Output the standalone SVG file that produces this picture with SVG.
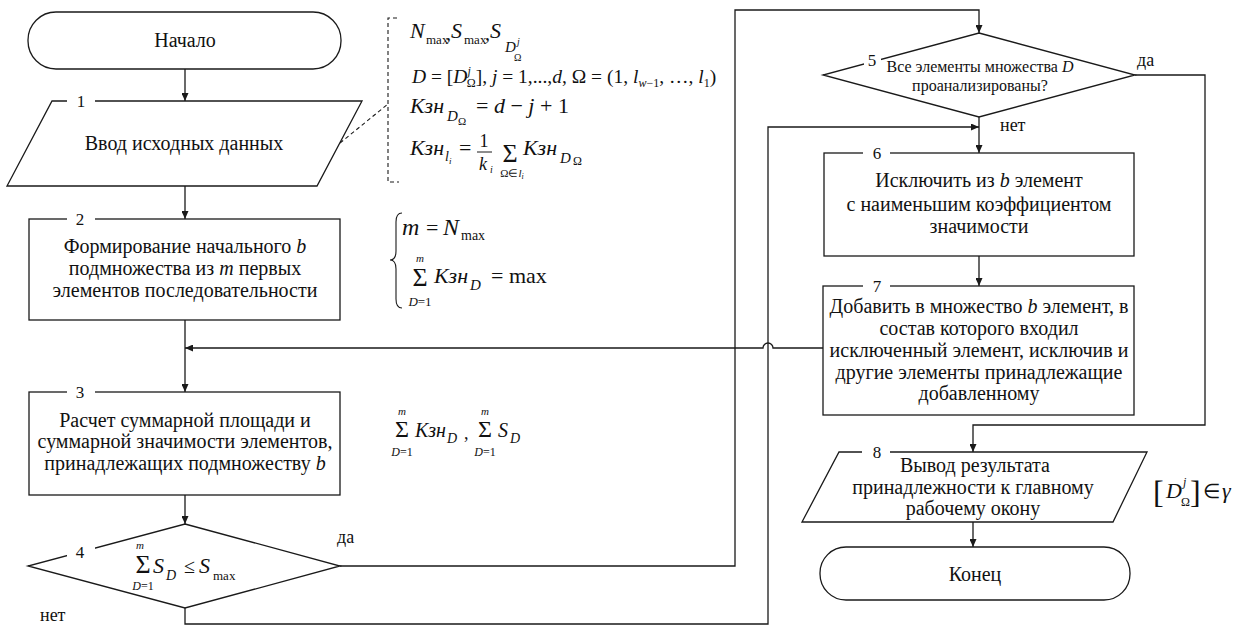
<svg xmlns="http://www.w3.org/2000/svg" width="1252" height="627" viewBox="0 0 1252 627" font-family="Liberation Serif">
<style>
.ln{fill:none;stroke:#1a1a1a;stroke-width:1.3}
.sh{fill:#fff;stroke:#1a1a1a;stroke-width:1.3}
.gap{fill:#fff;stroke:none}
text{font-family:"Liberation Serif","Times New Roman",serif;fill:#111}
.t{font-size:20px;text-anchor:middle}
.n{font-size:17px;text-anchor:middle}
.s{font-size:16px;text-anchor:middle}
.i{font-style:italic}
.mid{text-anchor:middle}
.dash{fill:none;stroke:#1a1a1a;stroke-width:1.1;stroke-dasharray:4,3}
</style>
<defs>
<marker id="ar" markerWidth="8" markerHeight="7" refX="8" refY="3.5" orient="auto" markerUnits="userSpaceOnUse">
<path d="M0,0 L8,3.5 L0,7 z" fill="#1a1a1a"/>
</marker>
</defs>
<rect width="1252" height="627" fill="#fff"/>

<g id="connectors">
<path class="ln" d="M185,69 V101" marker-end="url(#ar)"/>
<path class="ln" d="M185,186 V219" marker-end="url(#ar)"/>
<path class="ln" d="M185,320 V392" marker-end="url(#ar)"/>
<path class="ln" d="M185,495 V524" marker-end="url(#ar)"/>
<path class="ln" d="M340,566 H735 V10 H979 V33" marker-end="url(#ar)"/>
<path class="ln" d="M185,608 V624 H768 V127 H979" marker-end="url(#ar)"/>
<path class="ln" d="M979,117 V153" marker-end="url(#ar)"/>
<path class="ln" d="M979,256 V286" marker-end="url(#ar)"/>
<path class="ln" d="M823,348 H773 A5,5 0 0 0 763,348 H185" marker-end="url(#ar)"/>
<path class="ln" d="M1135,75 H1205 V425 H973 V452" marker-end="url(#ar)"/>
<path class="ln" d="M973,522 V547" marker-end="url(#ar)"/>
<path class="dash" d="M340,143 L388,104"/>
<text x="337" y="543" style="font-size:18px">да</text>
<text x="40" y="621" style="font-size:18px">нет</text>
<text x="1137" y="66" style="font-size:18px">да</text>
<text x="1000" y="131" style="font-size:18px">нет</text>
</g>

<g id="start">
<rect class="sh" x="28" y="12" width="313" height="57" rx="28" ry="28"/>
<text class="t" x="185" y="47">Начало</text>
</g>

<g id="node1">
<polygon class="sh" points="52,101 362,101 317,186 7,186"/>
<rect class="gap" x="67" y="97" width="28" height="8"/>
<text class="n" x="81" y="107">1</text>
<text class="t" x="184" y="150">Ввод исходных данных</text>
</g>

<g id="note-input">
<path class="dash" d="M397,18 H388 V182 H399"/>
<text x="410" y="38" class="i" style="font-size:22px">N</text>
<text x="426" y="44" style="font-size:13px">max</text>
<text x="446" y="40" style="font-size:20px">,</text>
<text x="451" y="38" class="i" style="font-size:22px">S</text>
<text x="464" y="44" style="font-size:13px">max</text>
<text x="485" y="40" style="font-size:20px">,</text>
<text x="490" y="38" class="i" style="font-size:22px">S</text>
<text x="505" y="52" class="i" style="font-size:15px">D</text>
<text x="517" y="45" class="i" style="font-size:10px">j</text>
<text x="514" y="61" style="font-size:10px">Ω</text>
<text x="412" y="83" style="font-size:19.5px"><tspan class="i">D</tspan> = [<tspan class="i">D</tspan><tspan class="i" style="font-size:12px" dy="-8">j</tspan><tspan style="font-size:12px" dx="-4" dy="12">Ω</tspan><tspan dy="-4">], </tspan><tspan class="i">j</tspan> = 1,...,<tspan class="i">d</tspan>, Ω = (1, <tspan class="i">l</tspan><tspan class="i" style="font-size:12px" dy="4">w</tspan><tspan style="font-size:12px">−1</tspan><tspan dy="-4">, …, </tspan><tspan class="i">l</tspan><tspan style="font-size:12px" dy="4">1</tspan><tspan dy="-4">)</tspan></text>
<text x="410" y="113" class="i" style="font-size:22px">Кзн</text>
<text x="447" y="121" class="i" style="font-size:15px">D</text>
<text x="458" y="125" style="font-size:11px">Ω</text>
<text x="476" y="113" style="font-size:22px">= <tspan class="i">d</tspan> − <tspan class="i">j</tspan> + 1</text>
<text x="410" y="155" class="i" style="font-size:22px">Кзн</text>
<text x="445" y="161" class="i" style="font-size:14px">l</text>
<text x="449" y="164" class="i" style="font-size:9px">i</text>
<text x="459" y="155" style="font-size:22px">=</text>
<text x="484" y="147" class="mid" style="font-size:18px">1</text>
<line class="ln" x1="477" y1="152" x2="492" y2="152" style="stroke-width:1"/>
<text x="483" y="170" class="i mid" style="font-size:18px">k</text>
<text x="490" y="173" class="i" style="font-size:10px">i</text>
<text x="510" y="162" class="mid" style="font-size:26px">Σ</text>
<text x="512" y="177" class="mid" style="font-size:11px">Ω∈<tspan class="i">l</tspan><tspan class="i" style="font-size:8px" dy="2">i</tspan></text>
<text x="523" y="155" class="i" style="font-size:22px">Кзн</text>
<text x="560" y="163" class="i" style="font-size:15px">D</text>
<text x="573" y="165" style="font-size:12px">Ω</text>
</g>

<g id="node2">
<rect class="sh" x="29" y="219" width="311" height="101"/>
<rect class="gap" x="67" y="215" width="28" height="8"/>
<text class="n" x="80" y="225">2</text>
<text class="t" x="185" y="253">Формирование начального <tspan class="i">b</tspan></text>
<text class="t" x="185" y="275">подмножества из <tspan class="i">m</tspan> первых</text>
<text class="t" x="185" y="297">элементов последовательности</text>
</g>

<g id="note-m">
<path class="ln" style="stroke-width:1.1" d="M402,213 Q396,213 396,222 V251 Q396,260 390,260 Q396,260 396,269 V299 Q396,308 402,308"/>
<text x="402" y="235" class="i" style="font-size:24px">m</text>
<text x="426" y="235" style="font-size:22px">=</text>
<text x="443" y="235" class="i" style="font-size:24px">N</text>
<text x="461" y="240" style="font-size:14px">max</text>
<text x="420" y="286" class="mid" style="font-size:26px">Σ</text>
<text x="420" y="262" class="i mid" style="font-size:11px">m</text>
<text x="420" y="306" class="mid" style="font-size:13px"><tspan class="i">D</tspan>=1</text>
<text x="434" y="283" class="i" style="font-size:22px">Кзн</text>
<text x="470" y="290" class="i" style="font-size:15px">D</text>
<text x="491" y="283" style="font-size:22px">= max</text>
</g>

<g id="node3">
<rect class="sh" x="29" y="392" width="311" height="103"/>
<rect class="gap" x="67" y="388" width="28" height="8"/>
<text class="n" x="80" y="398">3</text>
<text class="t" x="185" y="427">Расчет суммарной площади и</text>
<text class="t" x="185" y="448">суммарной значимости элементов,</text>
<text class="t" x="185" y="470">принадлежащих подмножеству <tspan class="i">b</tspan></text>
</g>

<g id="note-sum">
<text x="402" y="437" class="mid" style="font-size:24px">Σ</text>
<text x="402" y="415" class="i mid" style="font-size:11px">m</text>
<text x="402" y="456" class="mid" style="font-size:12px"><tspan class="i">D</tspan>=1</text>
<text x="415" y="437" class="i" style="font-size:20px">Кзн</text>
<text x="447" y="443" class="i" style="font-size:14px">D</text>
<text x="464" y="439" style="font-size:18px">,</text>
<text x="485" y="437" class="mid" style="font-size:24px">Σ</text>
<text x="485" y="415" class="i mid" style="font-size:11px">m</text>
<text x="485" y="456" class="mid" style="font-size:12px"><tspan class="i">D</tspan>=1</text>
<text x="498" y="437" class="i" style="font-size:20px">S</text>
<text x="510" y="443" class="i" style="font-size:14px">D</text>
</g>

<g id="node4">
<polygon class="sh" points="185,524 340,566 185,608 28,566"/>
<rect class="gap" x="67" y="545" width="28" height="13"/>
<text class="n" x="80" y="558">4</text>
<text x="143" y="573" class="mid" style="font-size:26px">Σ</text>
<text x="140" y="549" class="i mid" style="font-size:11px">m</text>
<text x="143" y="590" class="mid" style="font-size:12px"><tspan class="i">D</tspan>=1</text>
<text x="153" y="573" class="i" style="font-size:22px">S</text>
<text x="166" y="580" class="i" style="font-size:14px">D</text>
<text x="184" y="573" style="font-size:20px">≤</text>
<text x="199" y="573" class="i" style="font-size:22px">S</text>
<text x="213" y="580" style="font-size:13px">max</text>
</g>

<g id="node5">
<polygon class="sh" points="979,33 1135,75 979,117 823,75"/>
<rect class="gap" x="864" y="55" width="17" height="11"/>
<text class="n" x="872" y="66">5</text>
<text class="s" x="980" y="72">Все элементы множества <tspan class="i">D</tspan></text>
<text class="s" x="980" y="91">проанализированы?</text>
</g>

<g id="node6">
<rect class="sh" x="824" y="153" width="310" height="103"/>
<rect class="gap" x="863" y="149" width="27" height="8"/>
<text class="n" x="877" y="159">6</text>
<text class="t" x="979" y="187">Исключить из <tspan class="i">b</tspan> элемент</text>
<text class="t" x="979" y="211">с наименьшим коэффициентом</text>
<text class="t" x="979" y="233">значимости</text>
</g>

<g id="node7">
<rect class="sh" x="823" y="286" width="311" height="129"/>
<rect class="gap" x="863" y="282" width="27" height="8"/>
<text class="n" x="877" y="292">7</text>
<text class="t" x="979" y="313">Добавить в множество <tspan class="i">b</tspan> элемент, в</text>
<text class="t" x="979" y="335">состав которого входил</text>
<text class="t" x="979" y="357">исключенный элемент, исключив и</text>
<text class="t" x="979" y="379">другие элементы принадлежащие</text>
<text class="t" x="979" y="400">добавленному</text>
</g>

<g id="node8">
<polygon class="sh" points="839,452 1147,452 1113,522 802,522"/>
<rect class="gap" x="862" y="448" width="28" height="8"/>
<text class="n" x="877" y="458">8</text>
<text class="t" x="975" y="472">Вывод результата</text>
<text class="t" x="973" y="494">принадлежности к главному</text>
<text class="t" x="973" y="515">рабочему окону</text>
</g>

<g id="note-out">
<text x="1153" y="503" style="font-size:32px">[</text>
<text x="1166" y="498" class="i" style="font-size:22px">D</text>
<text x="1183" y="486" class="i" style="font-size:12px">j</text>
<text x="1181" y="506" style="font-size:12px">Ω</text>
<text x="1190" y="503" style="font-size:32px">]</text>
<text x="1203" y="498" style="font-size:20px">∈</text>
<text x="1222" y="498" class="i" style="font-size:22px">γ</text>
</g>

<g id="end">
<rect class="sh" x="820" y="547" width="310" height="53" rx="26" ry="26"/>
<text class="t" x="975" y="581">Конец</text>
</g>
</svg>
